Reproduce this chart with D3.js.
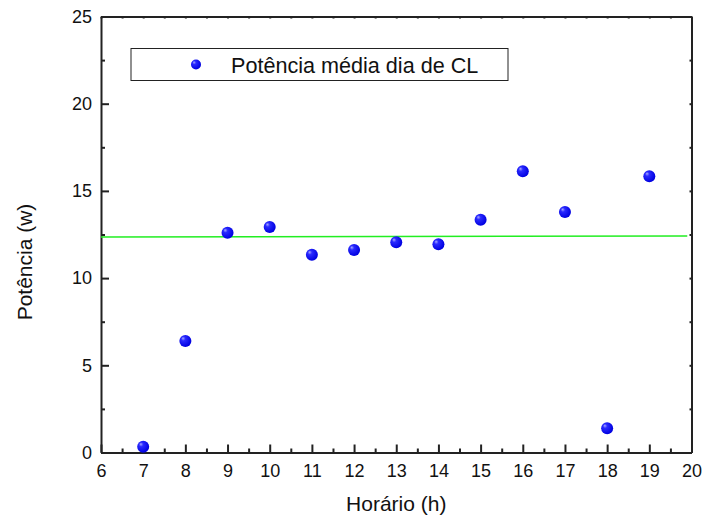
<!DOCTYPE html>
<html>
<head>
  <meta charset="utf-8">
  <title>Potência média dia de CL</title>
  <style>
    body { margin: 0; background: #fff; }
    text { font-family: Arial, "Liberation Sans", sans-serif; fill: #111; }
  </style>
</head>
<body>
  <script src="https://d3js.org/d3.v7.min.js"></script>
  <script type="text/javascript">

// data
var hours = [7, 8, 9, 10, 11, 12, 13, 14, 15, 16, 17, 18, 19];
var power = [0.33, 6.4, 12.6, 12.93, 11.34, 11.61, 12.05, 11.94, 13.35, 16.12, 13.79, 1.39, 15.84];
var refX = [6, 19.9];
var refY = [12.36, 12.41];
var xTicks = [6, 7, 8, 9, 10, 11, 12, 13, 14, 15, 16, 17, 18, 19, 20];
var yTicks = [0, 5, 10, 15, 20, 25];
var legendLabel = "Potência média dia de CL";

var width = 704, height = 517,
    margin = {top: 16.5, right: 12.5, bottom: 64.5, left: 101};

var svg = d3.select("body").append("svg")
    .attr("width", width)
    .attr("height", height);

var defs = svg.append("defs");
var grad = defs.append("radialGradient")
    .attr("id", "ball")
    .attr("cx", "40%").attr("cy", "40%").attr("r", "60%")
    .attr("fx", "30%").attr("fy", "28%");
grad.append("stop").attr("offset", "0%").attr("stop-color", "#a8a8ff");
grad.append("stop").attr("offset", "30%").attr("stop-color", "#2a2aff");
grad.append("stop").attr("offset", "100%").attr("stop-color", "#0000e0");

var x = d3.scaleLinear().domain([6, 20]).range([margin.left, width - margin.right]);
var y = d3.scaleLinear().domain([0, 25]).range([height - margin.bottom, margin.top]);

var xMinor = d3.range(6.5, 20, 1);
var yMinor = d3.range(2.5, 25, 5);

function styleAxis(g) {
  g.selectAll(".domain").attr("stroke", "#222").attr("stroke-width", 2);
  g.selectAll(".tick line").attr("stroke", "#222").attr("stroke-width", 2);
}

// bottom axis, ticks pointing in
var gx = svg.append("g")
    .attr("transform", "translate(0," + y(0) + ")")
    .call(d3.axisBottom(x).tickValues(xTicks).tickSize(-8).tickSizeOuter(0).tickPadding(14));
gx.selectAll("text").attr("font-size", "18px").attr("dy", "0.71em").attr("y", 12);
styleAxis(gx);
svg.append("g")
    .attr("transform", "translate(0," + y(0) + ")")
    .call(d3.axisBottom(x).tickValues(xMinor).tickSize(-4).tickFormat(""))
    .call(styleAxis)
    .select(".domain").remove();

// left axis
var gy = svg.append("g")
    .attr("transform", "translate(" + x(6) + ",0)")
    .call(d3.axisLeft(y).tickValues(yTicks).tickSize(-8).tickSizeOuter(0).tickPadding(9));
gy.selectAll("text").attr("font-size", "18px").attr("x", -9);
styleAxis(gy);
svg.append("g")
    .attr("transform", "translate(" + x(6) + ",0)")
    .call(d3.axisLeft(y).tickValues(yMinor).tickSize(-4).tickFormat(""))
    .call(styleAxis)
    .select(".domain").remove();

// top and right axes, tiny ticks
svg.append("g")
    .attr("transform", "translate(0," + y(25) + ")")
    .call(d3.axisTop(x).tickValues(xTicks.concat(xMinor)).tickSize(-2).tickSizeOuter(0).tickFormat(""))
    .call(styleAxis);
svg.append("g")
    .attr("transform", "translate(" + x(20) + ",0)")
    .call(d3.axisRight(y).tickValues(yTicks.concat(yMinor)).tickSize(-2).tickSizeOuter(0).tickFormat(""))
    .call(styleAxis);

// reference line
svg.append("line")
    .attr("x1", x(refX[0])).attr("y1", y(refY[0]))
    .attr("x2", x(refX[1])).attr("y2", y(refY[1]))
    .attr("stroke", "#22ee22")
    .attr("stroke-width", 1.5);

// points
svg.selectAll(".pt")
    .data(hours)
    .enter().append("circle")
    .attr("class", "pt")
    .attr("cx", function(d) { return x(d); })
    .attr("cy", function(d, i) { return y(power[i]); })
    .attr("r", 6)
    .attr("fill", "url(#ball)");

// legend
var legend = svg.append("g");
legend.append("rect")
    .attr("x", 131).attr("y", 48.5)
    .attr("width", 377).attr("height", 32)
    .attr("fill", "#fff")
    .attr("stroke", "#222")
    .attr("stroke-width", 1);
legend.append("circle")
    .attr("cx", 196).attr("cy", 64.5).attr("r", 5)
    .attr("fill", "url(#ball)");
legend.append("text")
    .attr("x", 231).attr("y", 72.5)
    .attr("font-size", "21.6px")
    .text(legendLabel);

// axis titles
svg.append("text")
    .attr("x", (x(6) + x(20)) / 2)
    .attr("y", 511)
    .attr("text-anchor", "middle")
    .attr("font-size", "21px")
    .text("Horário (h)");

svg.append("text")
    .attr("transform", "translate(32,262) rotate(-90)")
    .attr("text-anchor", "middle")
    .attr("font-size", "21px")
    .text("Potência (w)");

  </script>
</body>
</html>
